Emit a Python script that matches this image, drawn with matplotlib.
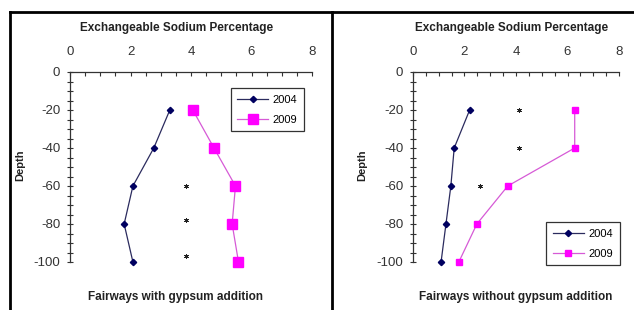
import matplotlib.pyplot as plt
from matplotlib.lines import Line2D
from matplotlib.ticker import MultipleLocator

plt.rcParams['font.family'] = ['Liberation Sans', 'DejaVu Sans']
plt.rcParams['axes.unicode_minus'] = False

depth = [-20, -40, -60, -80, -100]

##With gypsum
with_2004 = [3.3, 2.77, 2.08, 1.79, 2.08]
with_2009 = [4.06, 4.76, 5.47, 5.36, 5.57]
with_star_x = [3.85, 3.85, 3.85]
with_star_y = [-60, -78, -97]

##Without gypsum
without_2004 = [2.2, 1.6, 1.47, 1.28, 1.09]
without_2009 = [6.28, 6.28, 3.68, 2.48, 1.78]
without_star_x = [4.1, 4.1, 2.6]
without_star_y = [-20, -40, -60]

years = ["2004", "2009"]
title = "Exchangeable Sodium Percentage"
bottom_titles = ["Fairways with gypsum addition", "Fairways without gypsum addition"]

W, H = 634, 310
fig = plt.figure(figsize=(W / 100, H / 100), dpi=100)


def px_box(x0, x1, ytop, ybot):
    return [x0 / W, 1 - ybot / H, (x1 - x0) / W, (ybot - ytop) / H]


def panel(box, v04, v09, sx, sy, sq_size, leg_anchor):
    ax = fig.add_axes(box)
    ax.plot(v04, depth, color='#2b2b5e', lw=0.9, marker='D', ms=3.2,
            mfc='#000060', mec='#000060', label=years[0], clip_on=False)
    ax.plot(v09, depth, color='#d65ad6', lw=0.9, marker='s', ms=sq_size,
            mfc='#ff00ff', mec='#ff00ff', label=years[1], clip_on=False)
    ax.scatter(sx, sy, marker=(6, 2, 0), s=9, color='#222222', lw=0.6)
    ax.set_xlim(0, 8)
    ax.set_ylim(-100, 0)
    ax.xaxis.set_major_locator(MultipleLocator(2))
    ax.xaxis.set_minor_locator(MultipleLocator(0.5))
    ax.yaxis.set_major_locator(MultipleLocator(20))
    ax.yaxis.set_minor_locator(MultipleLocator(5))
    ax.xaxis.tick_top()
    for s in ['right', 'bottom']:
        ax.spines[s].set_visible(False)
    for s in ['left', 'top']:
        ax.spines[s].set_color('#333333')
        ax.spines[s].set_linewidth(0.9)
    ax.tick_params(axis='x', which='both', direction='in', length=3,
                   width=0.8, color='#333333', pad=10, labelsize=9.5,
                   labelcolor='#333333')
    ax.tick_params(axis='y', which='both', direction='inout', length=4,
                   width=0.8, color='#333333', pad=5, labelsize=9.5,
                   labelcolor='#333333')
    leg = ax.legend(loc='upper right', bbox_to_anchor=leg_anchor,
                    fontsize=8, frameon=True, fancybox=False,
                    edgecolor='black', handlelength=2.8, borderpad=0.6,
                    labelspacing=0.9, handletextpad=0.4)
    leg.get_frame().set_linewidth(0.9)
    return ax


panel(px_box(70, 312, 72, 262), with_2004, with_2009,
      with_star_x, with_star_y, 6.5, (0.99, 0.945))
panel(px_box(413, 619, 72, 262), without_2004, without_2009,
      without_star_x, without_star_y, 4.2, (1.03, 0.24))

##Titles
for cx in [177, 512]:
    fig.text(cx / W, 1 - 28 / H, title, ha='center', va='center',
             fontsize=8.5, fontweight='bold', color='#222222')
for cx, t in zip([175, 516], bottom_titles):
    fig.text(cx / W, 1 - 297 / H, t, ha='center', va='center',
             fontsize=8.5, fontweight='bold', color='#222222')
for cx in [20, 362]:
    fig.text(cx / W, 1 - 165 / H, "Depth", ha='center', va='center',
             rotation=90, fontsize=8, fontweight='bold', color='#222222')

##Panel borders
lw = 2.0
fig.add_artist(Line2D([10 / W, 1], [1 - 12 / H, 1 - 12 / H], color='black', lw=lw))
fig.add_artist(Line2D([10 / W, 10 / W], [0, 1 - 12 / H], color='black', lw=lw))
fig.add_artist(Line2D([332 / W, 332 / W], [0, 1 - 12 / H], color='black', lw=lw))

fig.savefig("out.png", dpi=100)
